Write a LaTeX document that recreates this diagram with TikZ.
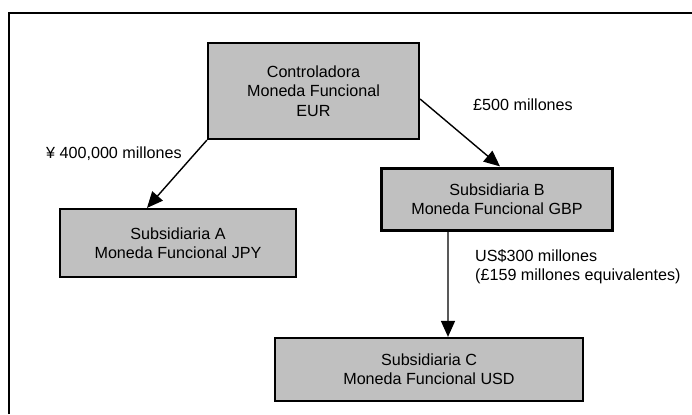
\documentclass[tikz,border=0pt]{standalone}
\usepackage{fontspec}
\setmainfont{Liberation Sans}
\usetikzlibrary{arrows.meta}
\definecolor{boxgray}{HTML}{C0C0C0}
\begin{document}
\begin{tikzpicture}[x=1bp,y=-1bp,
  txt/.style={font=\fontsize{16.2}{19.5}\selectfont},
  box/.style={txt, draw=black, line width=2.2bp, fill=boxgray, align=center, inner sep=0pt},
  lbl/.style={txt, align=left, inner sep=0pt, anchor=west},
  conn/.style={line width=1.4bp, -{Triangle[length=16bp,width=14bp]}}]
\useasboundingbox (0,0) rectangle (692,414);
\coordinate (fbl) at (9,414);
\coordinate (ftl) at (9,13);
\coordinate (ftr) at (692,13);
\draw[line width=1.8bp] (fbl) -- (ftl) -- (ftr);

\node[box, minimum width=211bp, minimum height=96bp] (ctrl) at (313.5,91) {Controladora\\Moneda Funcional\\EUR};
\node[box, minimum width=236bp, minimum height=68bp] (A) at (178,243) {Subsidiaria A\\Moneda Funcional JPY};
\node[box, minimum width=231bp, minimum height=62bp] (B) at (497,199.5) {Subsidiaria B\\Moneda Funcional GBP};
\node[box, minimum width=308bp, minimum height=63bp] (C) at (429,369.5) {Subsidiaria C\\Moneda Funcional USD};

\draw[conn] (ctrl.south west) -- ([xshift=-31bp]A.north);
\draw[conn] ([yshift=-8bp]ctrl.east) -- ([xshift=3bp,yshift=1bp]B.north);
\draw[conn] ([xshift=-49bp]B.south) -- ([xshift=19bp]C.north);

\node[lbl] (l1) at (46,154) {¥ 400,000 millones};
\node[lbl] (l2) at (473,105) {£500 millones};
\node[lbl] (l3) at (475,266.5) {US\$300 millones\\(£159 millones equivalentes)};
\end{tikzpicture}
\end{document}
